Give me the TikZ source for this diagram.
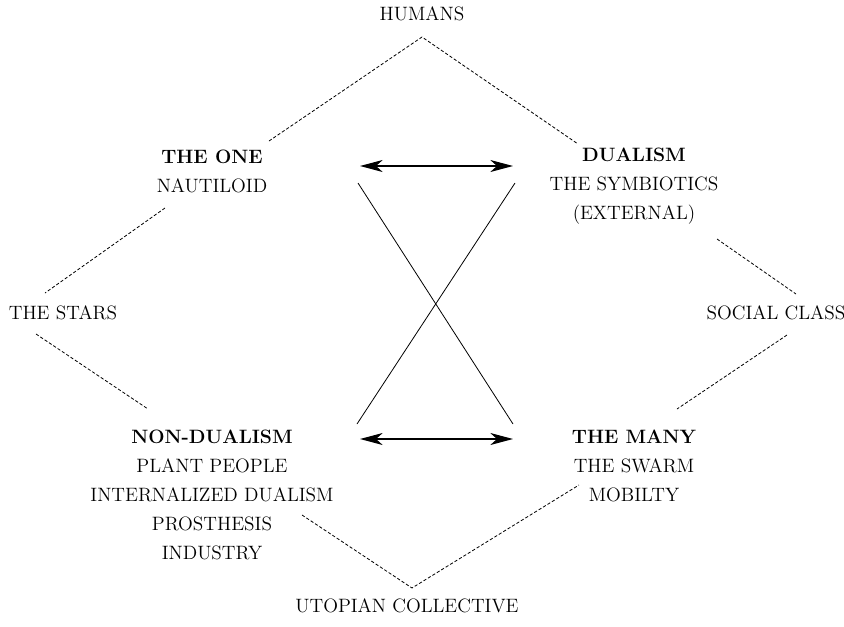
\documentclass[tikz,border=0pt]{standalone}
\usetikzlibrary{arrows.meta}

\begin{document}
\begin{tikzpicture}[
  x=0.75pt, y=-0.75pt,
  term/.style={align=center, inner sep=0pt, font=\fontsize{14.5}{21.75}\selectfont},
  link/.style={line width=0.6pt, dash pattern=on 2.4pt off 1.5pt},
  cross/.style={line width=0.6pt},
  arrow/.style={{Stealth[length=17pt,width=9pt,inset=5pt]}-{Stealth[length=17pt,width=9pt,inset=5pt]}, line width=0.9pt}
]
\useasboundingbox (0,0) rectangle (844,626);

% Terms
\node[term] (humans) at (422,14) {HUMANS};
\node[term] (one) at (212,171.5) {\textbf{THE ONE}\\NAUTILOID};
\node[term] (dual) at (634,186) {\textbf{DUALISM}\\THE SYMBIOTICS\\(EXTERNAL)};
\node[term] (stars) at (63,313) {THE STARS};
\node[term] (social) at (776,313) {SOCIAL CLASS};
\node[term] (nondual) at (212,495) {\textbf{NON-DUALISM}\\PLANT PEOPLE\\INTERNALIZED DUALISM\\PROSTHESIS\\INDUSTRY};
\node[term] (many) at (634,466) {\textbf{THE MANY}\\THE SWARM\\MOBILTY};
\node[term] (utopia) at (407,606) {UTOPIAN COLLECTIVE};

% Ends of the dashed links
\coordinate (top) at (422,37);
\coordinate (one-ne) at (269,141);
\coordinate (dual-nw) at (578,144);
\coordinate (one-sw) at (165,208);
\coordinate (stars-n) at (45,293);
\coordinate (stars-s) at (36,334);
\coordinate (nondual-nw) at (148,409);
\coordinate (dual-se) at (717,239);
\coordinate (social-n) at (796,294);
\coordinate (social-s) at (787,335);
\coordinate (many-nw) at (677,409);
\coordinate (nondual-se) at (302,515);
\coordinate (bottom) at (412,588);
\coordinate (many-sw) at (579,485);

\draw[link] (one-ne) -- (top) -- (dual-nw);
\draw[link] (one-sw) -- (stars-n);
\draw[link] (stars-s) -- (nondual-nw);
\draw[link] (dual-se) -- (social-n);
\draw[link] (social-s) -- (many-nw);
\draw[link] (nondual-se) -- (bottom) -- (many-sw);

% Arrows and cross
\coordinate (a1) at (360,166);
\coordinate (a2) at (513,166);
\coordinate (b1) at (360,439);
\coordinate (b2) at (513,439);
\coordinate (c1) at (358,183);
\coordinate (c2) at (515,183);
\coordinate (c3) at (357,424);
\coordinate (c4) at (513,424);

\draw[arrow] (a1) -- (a2);
\draw[arrow] (b1) -- (b2);
\draw[cross] (c1) -- (c4);
\draw[cross] (c2) -- (c3);

\end{tikzpicture}
\end{document}
